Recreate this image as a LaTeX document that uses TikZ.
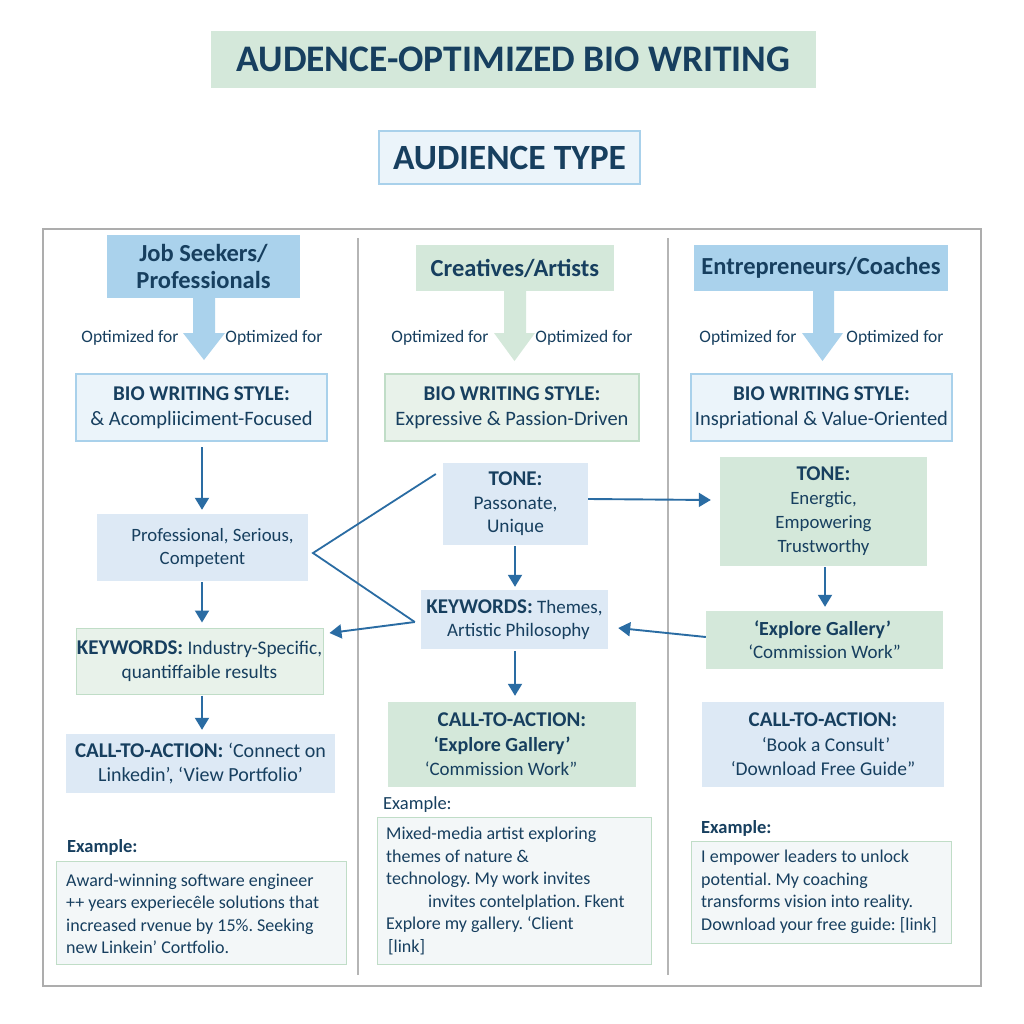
\documentclass[tikz,border=0pt]{standalone}
\usepackage{fontspec}
\setmainfont{Carlito}
\usetikzlibrary{arrows.meta}
\frenchspacing
\definecolor{navy}{HTML}{173F5F}
\definecolor{arr}{HTML}{2A6CA3}
\definecolor{hblue}{HTML}{AAD2EC}
\definecolor{lblue}{HTML}{DDE9F5}
\definecolor{vblue}{HTML}{EBF4FA}
\definecolor{bblue}{HTML}{A9D1EB}
\definecolor{hgreen}{HTML}{D4E8DA}
\definecolor{lgreen}{HTML}{E8F2EA}
\definecolor{bgreen}{HTML}{C0DDC7}
\definecolor{exfill}{HTML}{F3F7F8}
\definecolor{framec}{HTML}{ADADAD}
\newcommand{\hb}[1]{{\bfseries\fontsize{21}{24}\selectfont #1}}
\tikzset{
  box/.style={inner sep=0pt, align=center, text=navy, font=\fontsize{19.3}{23.5}\selectfont},
  biobox/.style={box, font=\fontsize{20.5}{25}\selectfont},
  hdr/.style={box, font=\bfseries\fontsize{24.5}{27}\selectfont},
  opt/.style={inner sep=0pt, text=navy, font=\fontsize{17.5}{20}\selectfont},
  exlab/.style={inner sep=0pt, anchor=west, text=navy, font=\bfseries\fontsize{18.5}{21}\selectfont},
  extext/.style={inner sep=0pt, align=left, text=navy, font=\fontsize{18}{22.5}\selectfont},
  conn/.style={draw=arr, line width=1.9pt, -{Triangle[width=14pt,length=12pt]}},
  vline/.style={draw=arr, line width=1.8pt},
}
\begin{document}
\begin{tikzpicture}[x=1pt,y=-1pt]
\useasboundingbox[fill=white] (0,0) rectangle (1024,1024);

% titles
\node[box, fill=hgreen, minimum width=605pt, minimum height=57pt, font=\bfseries\fontsize{37.5}{40}\selectfont] (title) at (513.5,59.5) {AUDENCE-OPTIMIZED BIO WRITING};
\node[box, fill=vblue, draw=bblue, line width=1.2pt, minimum width=261pt, minimum height=53pt, font=\bfseries\fontsize{35.5}{40}\selectfont] (atype) at (509.5,157.5) {AUDIENCE TYPE};

% frame and dividers
\draw[framec, line width=1.3pt] (43,229) rectangle (981,986);
\draw[framec!90, line width=1.2pt] (358,238) -- (358,975);
\draw[framec!90, line width=1.2pt] (668,238) -- (668,975);

% ---------- column 1 ----------
\node[hdr, fill=hblue, minimum width=193pt, minimum height=63pt] (h1) at (203.5,266.5) {Job Seekers/\\Professionals};
\fill[hblue] (193,298) -- (215,298) -- (215,333) -- (225,333) -- (204,360) -- (183,333) -- (193,333) -- cycle;
\node[opt] (o1l) at (130,338) {Optimized for};
\node[opt] (o1r) at (274,338) {Optimized for};
\node[biobox, fill=vblue, draw=bblue, line width=1.2pt, minimum width=251pt, minimum height=67pt] (bio1) at (201.5,407.5) {\hb{BIO WRITING STYLE:}\\\& Acompliiciment-Focused};
\node[box, font=\fontsize{18.8}{23}\selectfont, fill=lblue, minimum width=211pt, minimum height=67pt] (tone1) at (202.5,547.5) {\hspace*{20pt}Professional, Serious,\\Competent};
\node[box, fill=lgreen, draw=bgreen, line width=1pt, minimum width=247pt, minimum height=66pt] (kw1) at (199.5,661) {\hb{KEYWORDS:} Industry-Specific,\\quantiffaible results};
\node[box, font=\fontsize{20}{24}\selectfont, fill=lblue, minimum width=269pt, minimum height=59pt] (cta1) at (200.5,763.5) {\hb{CALL-TO-ACTION:} ‘Connect on\\Linkedin’, ‘View Portfolio’};
\node[exlab] (exl1) at (67,847) {Example:};
\node[box, fill=exfill, draw=bgreen, line width=1pt, minimum width=290pt, minimum height=103pt] (ex1) at (201,912.5) {};
\node[extext, anchor=west] (ext1) at (66,914) {Award-winning software engineer\\++ years experiecêle solutions that\\increased rvenue by 15\%. Seeking\\new Linkein’ Cortfolio.};

\draw[conn, shorten <=6pt, shorten >=4pt] (202,441) -- (tone1.north -| 202,0);
\draw[conn, shorten <=1pt, shorten >=5pt] (tone1.south -| 202,0) -- (kw1.north -| 202,0);
\draw[conn, shorten <=1pt, shorten >=4pt] (kw1.south -| 202,0) -- (cta1.north -| 202,0);

% ---------- column 2 ----------
\node[hdr, fill=hgreen, minimum width=198pt, minimum height=46pt] (h2) at (515,268) {Creatives/Artists};
\fill[hgreen] (504,291) -- (526,291) -- (526,333) -- (535,333) -- (514.5,361) -- (494,333) -- (504,333) -- cycle;
\node[opt] (o2l) at (440,338) {Optimized for};
\node[opt] (o2r) at (584,338) {Optimized for};
\node[biobox, fill=lgreen, draw=bgreen, line width=1.2pt, minimum width=254pt, minimum height=67pt] (bio2) at (512,407.5) {\hb{BIO WRITING STYLE:}\\Expressive \& Passion-Driven};
\node[box, fill=lblue, minimum width=145pt, minimum height=82pt] (tone2) at (515.5,504) {\hb{TONE:}\\Passonate,\\Unique};
\node[box, font=\fontsize{19}{23}\selectfont, fill=lblue, minimum width=187pt, minimum height=59pt] (kw2) at (514.5,619.5) {\hb{KEYWORDS:} Themes,\\\hspace*{8pt}Artistic Philosophy};
\node[box, font=\fontsize{19}{24.5}\selectfont, fill=hgreen, minimum width=248pt, minimum height=85pt] (cta2) at (512,744.5) {\hb{CALL-TO-ACTION:}\\\hspace*{-20pt}{\bfseries\fontsize{20}{24}\selectfont ‘Explore Gallery’}\\\hspace*{-22pt}‘Commission Work”};
\node[exlab, font=\fontsize{18.5}{21}\selectfont] (exl2) at (383,805) {Example:};
\node[box, fill=exfill, draw=bgreen, line width=1pt, minimum width=274pt, minimum height=147pt] (ex2) at (514,890.5) {};
\node[extext, anchor=west] (ext2) at (386,891) {Mixed-media artist exploring\\themes of nature \&\\technology. My work invites\\\hspace*{42pt}invites contelplation. Fkent\\Explore my gallery. ‘Client\\\hspace*{2pt}[link]};

\draw[conn, shorten <=1pt, shorten >=3pt] (tone2.south -| 515,0) -- (kw2.north -| 515,0);
\draw[conn, shorten <=2pt, shorten >=6pt] (kw2.south -| 515,0) -- (cta2.north -| 515,0);

% ---------- column 3 ----------
\node[hdr, fill=hblue, minimum width=254pt, minimum height=46pt] (h3) at (821,268) {Entrepreneurs/Coaches};
\fill[hblue] (813,291) -- (834,291) -- (834,333) -- (843,333) -- (822.5,361) -- (802,333) -- (813,333) -- cycle;
\node[opt] (o3l) at (748,338) {Optimized for};
\node[opt] (o3r) at (895,338) {Optimized for};
\node[biobox, fill=vblue, draw=bblue, line width=1.2pt, minimum width=261pt, minimum height=67pt] (bio3) at (821.5,407.5) {\hb{BIO WRITING STYLE:}\\Inspriational \& Value-Oriented};
\node[box, font=\fontsize{18.8}{24}\selectfont, fill=hgreen, minimum width=207pt, minimum height=109pt] (tone3) at (823.5,511.5) {\hb{TONE:}\\Energtic,\\Empowering\\Trustworthy};
\node[box, font=\fontsize{19}{23}\selectfont, fill=hgreen, minimum width=237pt, minimum height=58pt] (exp3) at (824.5,640) {\hspace*{-4pt}{\bfseries\fontsize{20}{23}\selectfont ‘Explore Gallery’}\\‘Commission Work”};
\node[box, fill=lblue, minimum width=242pt, minimum height=85pt, font=\fontsize{19.5}{24.5}\selectfont] (cta3) at (823,744.5) {\hb{CALL-TO-ACTION:}\\\hspace*{6pt}‘Book a Consult’\\‘Download Free Guide”};
\node[exlab] (exl3) at (701,828) {Example:};
\node[box, fill=exfill, draw=bgreen, line width=1pt, minimum width=260pt, minimum height=102pt] (ex3) at (821,892) {};
\node[extext, anchor=west] (ext3) at (701,892) {I empower leaders to unlock\\potential. My coaching\\transforms vision into reality.\\Download your free guide: [link]};

\draw[conn, shorten <=1pt, shorten >=4pt] (tone3.south -| 825,0) -- (exp3.north -| 825,0);

% ---------- cross connectors ----------
\coordinate (vtx) at (313,553);
\draw[vline] ([shift={(-7,-30)}]tone2.west) -- (vtx) -- ([shift={(-6,2.5)}]kw2.west);
\draw[conn] ([shift={(-6,2.5)}]kw2.west) -- ([shift={(6,-28)}]kw1.east);
\draw[conn] ([yshift=5pt]tone2.east) -- ([xshift=-9pt,yshift=11.5pt]tone3.west);
\draw[conn] ([yshift=3pt]exp3.west) -- ([xshift=10pt,yshift=-8.5pt]kw2.east);
\end{tikzpicture}
\end{document}
